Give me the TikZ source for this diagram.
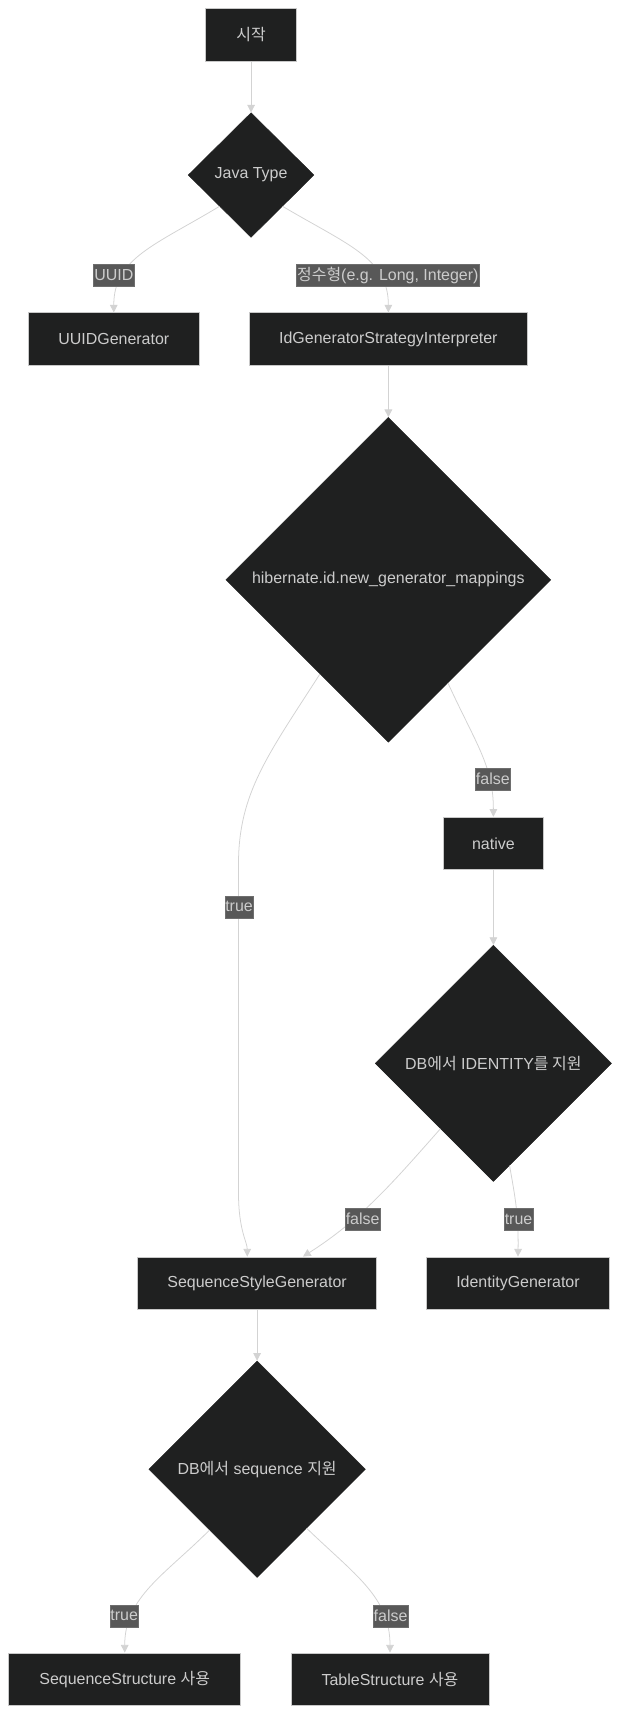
\documentclass[tikz,border=0pt]{standalone}
\usepackage{fontspec}
\setmainfont{Liberation Sans}
\newfontfamily\kr{Noto Sans CJK KR}
\usetikzlibrary{shapes.geometric,arrows.meta}
\definecolor{nodefill}{HTML}{1F2020}
\definecolor{nodeline}{HTML}{C8C8C8}
\definecolor{txt}{HTML}{CCCCCC}
\definecolor{edgecol}{HTML}{D3D3D3}
\definecolor{lblfill}{HTML}{585858}
\definecolor{lblline}{HTML}{6E6E6E}
\begin{document}
\begin{tikzpicture}[x=1pt,y=-1pt,
  every node/.style={font=\fontsize{14.6}{17.5}\selectfont},
  box/.style={draw=nodeline, line width=0.8pt, fill=nodefill, text=txt, minimum height=48pt, inner sep=0pt},
  dec/.style={diamond, fill=nodefill, draw=nodefill, text=txt, inner sep=0pt, aspect=1},
  lbl/.style={fill=lblfill, draw=lblline, line width=0.4pt, text=txt, inner xsep=0.5pt, inner ysep=0pt, minimum height=20pt},
  edge/.style={draw=edgecol, line width=0.7pt, -{Triangle[length=7pt,width=7pt]}}
]
\fill[white] (0,0) rectangle (567.6,1568.6);
\useasboundingbox (0,0) rectangle (567.6,1568.6);

\node[box, minimum width=83pt] (start) at (229.5,32) {\kr 시작};
\node[dec, minimum width=115pt, minimum height=114pt] (jt) at (229.5,160) {Java Type};
\node[box, minimum width=156pt] (uuidg) at (104,310) {UUIDGenerator};
\node[box, minimum width=254pt] (idgen) at (355,310) {IdGeneratorStrategyInterpreter};
\node[dec, minimum width=297pt, minimum height=297pt] (hib) at (355,530) {hibernate.id.new\_generator\_mappings};
\node[box, minimum width=92pt] (native) at (451,771) {native};
\node[dec, minimum width=216pt, minimum height=216pt] (idd) at (451,972) {DB{\kr 에서} IDENTITY{\kr 를 지원}};
\node[box, minimum width=218pt] (ssg) at (235,1173) {SequenceStyleGenerator};
\node[box, minimum width=167pt] (idg) at (473.5,1173) {IdentityGenerator};
\node[dec, minimum width=198pt, minimum height=198pt] (seq) at (235,1343) {DB{\kr 에서} sequence {\kr 지원}};
\node[box, minimum width=212pt] (sst) at (114,1535) {SequenceStructure {\kr 사용}};
\node[box, minimum width=181pt] (tst) at (356.5,1535) {TableStructure {\kr 사용}};

\draw[edge] (start) -- (jt);
\draw[edge] (jt.south west) .. controls (142,224) and (104,236) .. (uuidg.north);
\draw[edge] (jt.south east) .. controls (318,224) and (355,236) .. (idgen.north);
\draw[edge] (idgen) -- (hib);
\draw[edge] (hib.-60) .. controls (435,680) and (451,700) .. (native.north);
\draw[edge] (hib.-126) .. controls (245,690) and (218,725) .. (218,790) -- (218,1090) .. controls (218,1125) and (226,1135) .. ([xshift=-9pt]ssg.north);
\draw[edge] (native) -- (idd);
\draw[edge] (idd.-129) .. controls (360,1080) and (330,1115) .. ([xshift=42pt]ssg.north);
\draw[edge] (idd.-81) .. controls (471,1095) and (474,1110) .. (idg.north);
\draw[edge] (ssg) -- (seq);
\draw[edge] (seq.-128) .. controls (150,1440) and (114,1460) .. (sst.north);
\draw[edge] (seq.-50) .. controls (325,1440) and (356.5,1460) .. (tst.north);

\node[lbl] (l1) at (104,251.5) {UUID};
\node[lbl] (l2) at (354.5,251.5) {{\kr 정수형}(e.g. Long, Integer)};
\node[lbl] (l3) at (450.5,712) {false};
\node[lbl] (l4) at (218.5,829) {true};
\node[lbl] (l5) at (331.5,1114.5) {false};
\node[lbl] (l6) at (474,1114.5) {true};
\node[lbl] (l7) at (113.5,1477) {true};
\node[lbl] (l8) at (357,1477) {false};
\end{tikzpicture}
\end{document}
